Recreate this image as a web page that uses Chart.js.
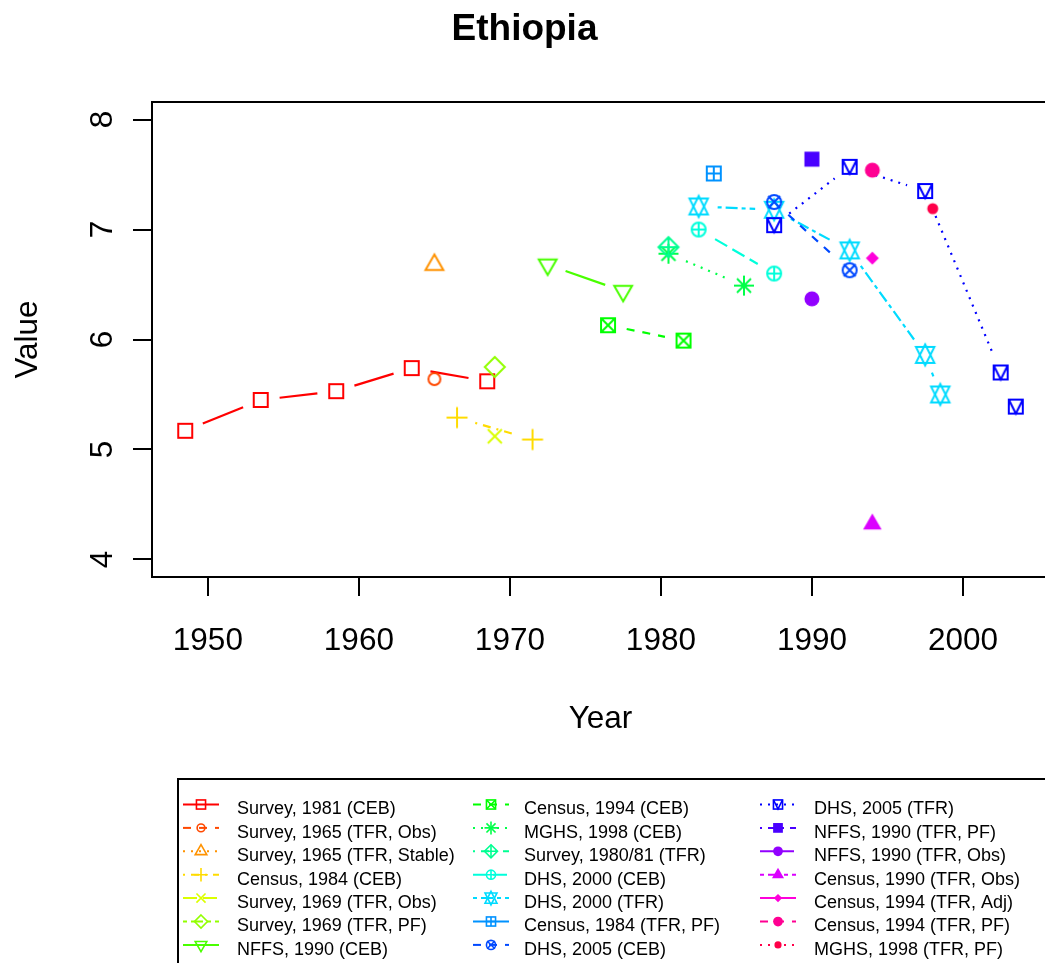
<!DOCTYPE html>
<html>
<head>
<meta charset="utf-8">
<title>Ethiopia</title>
<script src="https://cdn.jsdelivr.net/npm/chart.js@4.4.1/dist/chart.umd.min.js"></script>
<style>
  html, body { margin: 0; padding: 0; background: #fff; overflow: hidden; }
  #wrap { width: 1045px; height: 963px; overflow: hidden; }
  canvas { display: block; }
</style>
</head>
<body>
<div id="wrap"><canvas id="chart" width="1100" height="963"></canvas></div>
<script>
const FONT = "'Liberation Sans', Arial, sans-serif";

// series names, in legend order
const seriesLabels = [
  'Survey, 1981 (CEB)', 'Survey, 1965 (TFR, Obs)', 'Survey, 1965 (TFR, Stable)', 'Census, 1984 (CEB)',
  'Survey, 1969 (TFR, Obs)', 'Survey, 1969 (TFR, PF)', 'NFFS, 1990 (CEB)',
  'Census, 1994 (CEB)', 'MGHS, 1998 (CEB)', 'Survey, 1980/81 (TFR)', 'DHS, 2000 (CEB)',
  'DHS, 2000 (TFR)', 'Census, 1984 (TFR, PF)', 'DHS, 2005 (CEB)',
  'DHS, 2005 (TFR)', 'NFFS, 1990 (TFR, PF)', 'NFFS, 1990 (TFR, Obs)', 'Census, 1990 (TFR, Obs)',
  'Census, 1994 (TFR, Adj)', 'Census, 1994 (TFR, PF)', 'MGHS, 1998 (TFR, PF)'
];

// years and values
const survey81CebYears = [1948.5, 1953.5, 1958.5, 1963.5, 1968.5];
const survey81CebValues = [5.17, 5.45, 5.53, 5.74, 5.62];
const survey65ObsYears = [1965];
const survey65ObsValues = [5.64];
const survey65StableYears = [1965];
const survey65StableValues = [6.68];
const census84CebYears = [1966.5, 1971.5];
const census84CebValues = [5.29, 5.09];
const survey69ObsYears = [1969];
const survey69ObsValues = [5.12];
const survey69PfYears = [1969];
const survey69PfValues = [5.75];
const nffs90CebYears = [1972.5, 1977.5];
const nffs90CebValues = [6.68, 6.44];
const census94CebYears = [1976.5, 1981.5];
const census94CebValues = [6.13, 5.99];
const mghs98CebYears = [1980.5, 1985.5];
const mghs98CebValues = [6.78, 6.49];
const survey8081TfrYears = [1980.5];
const survey8081TfrValues = [6.84];
const dhs00CebYears = [1982.5, 1987.5];
const dhs00CebValues = [7.00, 6.60];
const dhs00TfrYears = [1982.5, 1987.5, 1992.5, 1997.5, 1998.5];
const dhs00TfrValues = [7.21, 7.18, 6.81, 5.86, 5.50];
const census84PfYears = [1983.5];
const census84PfValues = [7.51];
const dhs05CebYears = [1987.5, 1992.5];
const dhs05CebValues = [7.25, 6.63];
const dhs05TfrYears = [1987.5, 1992.5, 1997.5, 2002.5, 2003.5];
const dhs05TfrValues = [7.04, 7.57, 7.35, 5.70, 5.39];
const nffs90PfYears = [1990];
const nffs90PfValues = [7.64];
const nffs90ObsYears = [1990];
const nffs90ObsValues = [6.37];
const census90ObsYears = [1994];
const census90ObsValues = [4.32];
const census94AdjYears = [1994];
const census94AdjValues = [6.74];
const census94PfYears = [1994];
const census94PfValues = [7.54];
const mghs98PfYears = [1998];
const mghs98PfValues = [7.19];

const yearTicks = [1950, 1960, 1970, 1980, 1990, 2000];
const valueTicks = [4, 5, 6, 7, 8];

const seriesYears = [
  survey81CebYears, survey65ObsYears, survey65StableYears, census84CebYears, survey69ObsYears,
  survey69PfYears, nffs90CebYears, census94CebYears, mghs98CebYears, survey8081TfrYears,
  dhs00CebYears, dhs00TfrYears, census84PfYears, dhs05CebYears, dhs05TfrYears, nffs90PfYears,
  nffs90ObsYears, census90ObsYears, census94AdjYears, census94PfYears, mghs98PfYears
];
const seriesValues = [
  survey81CebValues, survey65ObsValues, survey65StableValues, census84CebValues, survey69ObsValues,
  survey69PfValues, nffs90CebValues, census94CebValues, mghs98CebValues, survey8081TfrValues,
  dhs00CebValues, dhs00TfrValues, census84PfValues, dhs05CebValues, dhs05TfrValues, nffs90PfValues,
  nffs90ObsValues, census90ObsValues, census94AdjValues, census94PfValues, mghs98PfValues
];

// rainbow palette, one colour per series
const palette = [
  '#FF0000', '#FF4900', '#FF9200', '#FFDB00', '#DBFF00', '#92FF00', '#49FF00',
  '#00FF00', '#00FF49', '#00FF92', '#00FFDB', '#00DBFF', '#0092FF', '#0049FF',
  '#0000FF', '#4900FF', '#9200FF', '#DB00FF', '#FF00DB', '#FF0092', '#FF0049'
];
// solid, dashed, dotted, dotdash, longdash, twodash
const lineTypes = [[], [8, 8], [2, 6], [2, 6, 8, 6], [14, 6], [4, 4, 12, 4]];

// --- R style plotting symbols ---
function poly(ctx, pts) {
  ctx.beginPath();
  pts.forEach(([px, py], i) => i ? ctx.lineTo(px, py) : ctx.moveTo(px, py));
  ctx.closePath();
}

function segs(ctx, list) {
  ctx.beginPath();
  list.forEach(([x1, y1, x2, y2]) => { ctx.moveTo(x1, y1); ctx.lineTo(x2, y2); });
  ctx.stroke();
}

function drawPch(ctx, pch, x, y, k, color) {
  const r = 7 * k;
  ctx.save();
  ctx.strokeStyle = color;
  ctx.fillStyle = color;
  ctx.lineWidth = k < 1 ? 1.6 : 2;
  ctx.setLineDash([]);
  const square = h => ctx.strokeRect(x - h, y - h, 2 * h, 2 * h);
  const circle = rad => { ctx.beginPath(); ctx.arc(x, y, rad, 0, Math.PI * 2); };
  const plus = h => segs(ctx, [[x - h, y, x + h, y], [x, y - h, x, y + h]]);
  const cross = h => segs(ctx, [[x - h, y - h, x + h, y + h], [x - h, y + h, x + h, y - h]]);
  const diamond = h => poly(ctx, [[x, y - h], [x + h, y], [x, y + h], [x - h, y]]);
  const tri = (tr, dir) => {
    const xc = tr * 0.866;
    poly(ctx, [[x, y - dir * tr], [x + xc, y + dir * tr / 2], [x - xc, y + dir * tr / 2]]);
  };
  switch (pch) {
    case 0: square(r); break;
    case 1: circle(r * 0.85); ctx.stroke(); break;
    case 2: tri(10.3 * k, 1); ctx.stroke(); break;
    case 3: plus(10.5 * k); break;
    case 4: cross(r); break;
    case 5: diamond(10 * k); ctx.stroke(); break;
    case 6: tri(10.3 * k, -1); ctx.stroke(); break;
    case 7: square(r); cross(r); break;
    case 8: plus(10 * k); cross(r); break;
    case 9: diamond(10 * k); ctx.stroke(); plus(10 * k); break;
    case 10: circle(r); ctx.stroke(); plus(r); break;
    case 11: {
      const tr = 10.5 * k, yc = 7.9 * k, xc = 9.2 * k;
      poly(ctx, [[x, y - tr], [x + xc, y + yc], [x - xc, y + yc]]); ctx.stroke();
      poly(ctx, [[x, y + tr], [x + xc, y - yc], [x - xc, y - yc]]); ctx.stroke();
      break;
    }
    case 12: square(r); plus(r); break;
    case 13: circle(r); ctx.stroke(); cross(r * 0.85); break;
    case 14:
      square(r);
      ctx.beginPath(); ctx.moveTo(x - r, y - r); ctx.lineTo(x, y + r); ctx.lineTo(x + r, y - r); ctx.stroke();
      break;
    case 15: ctx.fillRect(x - 7.5 * k, y - 7.5 * k, 15 * k, 15 * k); break;
    case 16: circle(7.5 * k); ctx.fill(); break;
    case 17: tri(10.7 * k, 1); ctx.fill(); break;
    case 18: diamond(6.5 * k); ctx.fill(); break;
    case 19: circle(7.5 * k); ctx.fill(); break;
    case 20: circle(5.5 * k); ctx.fill(); break;
  }
  ctx.restore();
}

function markerCanvas(pch, color) {
  const c = document.createElement('canvas');
  c.width = 28;
  c.height = 28;
  drawPch(c.getContext('2d'), pch, 14, 14, 1, color);
  return c;
}

//type="b" lines: segments between points, with a gap round each point
const gapLines = {
  id: 'gapLines',
  beforeDatasetsDraw(chart) {
    const ctx = chart.ctx;
    const gap = 19;
    chart.data.datasets.forEach((ds, i) => {
      const pts = chart.getDatasetMeta(i).data;
      ctx.save();
      ctx.strokeStyle = ds.borderColor;
      ctx.lineWidth = ds.borderWidth;
      ctx.setLineDash(ds.borderDash);
      for (let k = 0; k < pts.length - 1; k++) {
        const p = pts[k], q = pts[k + 1];
        const dx = q.x - p.x, dy = q.y - p.y;
        const d = Math.hypot(dx, dy);
        if (d <= 2 * gap) continue;
        const ux = dx / d, uy = dy / d;
        ctx.lineDashOffset = 0;
        ctx.beginPath();
        ctx.moveTo(p.x + ux * gap, p.y + uy * gap);
        ctx.lineTo(q.x - ux * gap, q.y - uy * gap);
        ctx.stroke();
      }
      ctx.restore();
    });
  }
};

const frameBox = {
  id: 'frameBox',
  afterDatasetsDraw(chart) {
    const { ctx, chartArea: a } = chart;
    ctx.save();
    ctx.strokeStyle = '#000';
    ctx.lineWidth = 2;
    ctx.strokeRect(a.left, a.top, a.right - a.left, a.bottom - a.top);
    ctx.restore();
  }
};

//three column legend under the plot
const bottomLegend = {
  id: 'bottomLegend',
  afterDraw(chart) {
    const ctx = chart.ctx;
    const colLine = [183, 473, 760];
    const colText = [237, 524, 814];
    ctx.save();
    ctx.strokeStyle = '#000';
    ctx.lineWidth = 2;
    ctx.strokeRect(178, 779, 1000, 300);
    seriesLabels.forEach((label, i) => {
      const col = Math.floor(i / 7), row = i % 7;
      const x0 = colLine[col];
      const y = 804.5 + row * 23.4;
      ctx.strokeStyle = palette[i];
      ctx.lineWidth = 2;
      ctx.setLineDash(lineTypes[i % 6]);
      ctx.beginPath();
      ctx.moveTo(x0, y);
      ctx.lineTo(x0 + 36, y);
      ctx.stroke();
      ctx.setLineDash([]);
      drawPch(ctx, i, x0 + 18, y, 0.65, palette[i]);
      ctx.fillStyle = '#000';
      ctx.font = '18px ' + FONT;
      ctx.textBaseline = 'middle';
      ctx.textAlign = 'left';
      ctx.fillText(label, colText[col], y + 5);
    });
    ctx.restore();
  }
};

Chart.defaults.font.family = FONT;
Chart.defaults.color = '#000';

const datasets = seriesLabels.map((label, i) => ({
  label,
  data: seriesYears[i].map((x, j) => ({ x, y: seriesValues[i][j] })),
  borderColor: palette[i],
  backgroundColor: palette[i],
  borderWidth: 2.2,
  borderDash: lineTypes[i % 6],
  pointStyle: markerCanvas(i, palette[i]),
  pointRadius: 8,
  showLine: false,
  order: seriesLabels.length - i
}));

new Chart(document.getElementById('chart'), {
  type: 'scatter',
  data: { datasets },
  plugins: [gapLines, frameBox, bottomLegend],
  options: {
    responsive: false,
    animation: false,
    events: [],
    layout: { padding: { left: 0, right: 51, top: 0, bottom: 0 } },
    plugins: {
      legend: { display: false },
      tooltip: { enabled: false },
      title: {
        display: true,
        text: 'Ethiopia',
        color: '#000',
        font: { family: FONT, size: 37, weight: 'bold' },
        padding: { top: 8, bottom: 49.6 }
      }
    },
    scales: {
      x: {
        type: 'linear',
        position: 'bottom',
        min: 1946.3,
        max: 2005.7,
        afterBuildTicks: s => { s.ticks = yearTicks.map(v => ({ value: v })); },
        afterFit: s => { s.height = 386; },
        grid: { drawOnChartArea: false, drawTicks: true, tickLength: 19, color: '#000', lineWidth: 2 },
        border: { display: false },
        ticks: {
          color: '#000',
          font: { family: FONT, size: 31.5 },
          padding: 26,
          maxRotation: 0,
          callback: v => String(v)
        },
        title: {
          display: true,
          text: 'Year',
          color: '#000',
          font: { family: FONT, size: 31.5 },
          padding: { top: 0, bottom: 224.6 }
        }
      },
      y: {
        type: 'linear',
        position: 'left',
        min: 3.84,
        max: 8.16,
        afterBuildTicks: s => { s.ticks = valueTicks.map(v => ({ value: v })); },
        afterFit: s => { s.width = 152; },
        grid: { drawOnChartArea: false, drawTicks: true, tickLength: 19, color: '#000', lineWidth: 2 },
        border: { display: false },
        ticks: {
          color: '#000',
          font: { family: FONT, size: 31.5 },
          padding: 21,
          minRotation: 90,
          maxRotation: 90,
          crossAlign: 'center',
          callback: v => String(v)
        },
        title: {
          display: true,
          text: 'Value',
          color: '#000',
          font: { family: FONT, size: 31.5 },
          padding: { top: 9.9, bottom: 0 }
        }
      }
    }
  }
});
</script>
</body>
</html>
